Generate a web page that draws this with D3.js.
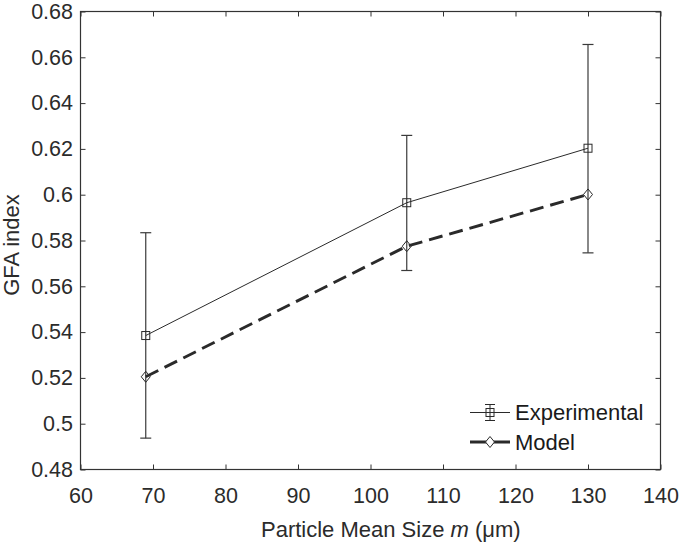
<!DOCTYPE html>
<html><head><meta charset="utf-8">
<script src="https://cdn.jsdelivr.net/npm/d3@7"></script>
<style>body{margin:0;background:#fff}svg{display:block}</style>
</head><body>
<svg id="c" width="685" height="544"></svg>
<script>
const sizes = [69, 105, 130];
const experimental = [0.5385, 0.5965, 0.6203];
const errLow = [0.4937, 0.5669, 0.5746];
const errHigh = [0.5834, 0.6259, 0.6656];
const model = [0.5205, 0.5775, 0.6001];
const xTicks = [60, 70, 80, 90, 100, 110, 120, 130, 140];
const yTicks = [0.48, 0.5, 0.52, 0.54, 0.56, 0.58, 0.6, 0.62, 0.64, 0.66, 0.68];
const seriesNames = ["Experimental", "Model"];

const svg = d3.select("#c");
const L = 80.5, R = 660.5, T = 11.5, B = 469.5;
const x = d3.scaleLinear().domain([60, 140]).range([L, R]);
const y = d3.scaleLinear().domain([0.48, 0.68]).range([B, T]);
const axisCol = "#333";
const font = "'Liberation Sans', Arial, sans-serif";
const fs = 21.5, fsL = 22;

function styleAxis(g, showText){
  g.select(".domain").remove();
  g.selectAll(".tick line").attr("stroke", axisCol).attr("stroke-width", 1);
  g.selectAll(".tick text").attr("fill", "#2b2b2b").style("font-family", font).style("font-size", fs + "px");
  if(!showText) g.selectAll(".tick text").remove();
}
const fmtY = d => d3.format("")(+d.toFixed(2));
svg.append("g").attr("transform", `translate(0,${B})`)
  .call(d3.axisBottom(x).tickValues(xTicks).tickSizeInner(-5).tickSizeOuter(0).tickPadding(18))
  .call(g => styleAxis(g, true));
svg.append("g").attr("transform", `translate(0,${T})`)
  .call(d3.axisTop(x).tickValues(xTicks).tickSizeInner(-5).tickSizeOuter(0))
  .call(g => styleAxis(g, false));
svg.append("g").attr("transform", `translate(${L},0)`)
  .call(d3.axisLeft(y).tickValues(yTicks).tickFormat(fmtY).tickSizeInner(-5).tickSizeOuter(0).tickPadding(7.5))
  .call(g => styleAxis(g, true));
svg.append("g").attr("transform", `translate(${R},0)`)
  .call(d3.axisRight(y).tickValues(yTicks).tickSizeInner(-5).tickSizeOuter(0))
  .call(g => styleAxis(g, false));
svg.append("rect").attr("x", L).attr("y", T).attr("width", R - L).attr("height", B - T)
  .attr("fill", "none").attr("stroke", axisCol).attr("stroke-width", 1.2);

// axis labels
svg.append("text").attr("x", 261).attr("y", 536.5).attr("text-anchor", "start")
  .style("font-family", font).style("font-size", fsL + "px").attr("fill", "#2b2b2b")
  .html('Particle Mean Size <tspan font-style="italic">m</tspan> (μm)');
svg.append("text").attr("transform", `translate(19,245) rotate(-90)`).attr("text-anchor", "middle")
  .style("font-family", font).style("font-size", fsL + "px").attr("fill", "#2b2b2b")
  .text("GFA index");

const line = d3.line().x(d => x(d[0])).y(d => y(d[1]));
const expData = sizes.map((s, i) => [s, experimental[i]]);
const modData = sizes.map((s, i) => [s, model[i]]);

// error bars
const eb = svg.append("g").attr("stroke", "#3a3a3a").attr("stroke-width", 1.2);
sizes.forEach((s, i) => {
  const cx = x(s);
  eb.append("line").attr("x1", cx).attr("x2", cx).attr("y1", y(errLow[i])).attr("y2", y(errHigh[i]));
  eb.append("line").attr("x1", cx - 5.5).attr("x2", cx + 5.5).attr("y1", y(errLow[i])).attr("y2", y(errLow[i]));
  eb.append("line").attr("x1", cx - 5.5).attr("x2", cx + 5.5).attr("y1", y(errHigh[i])).attr("y2", y(errHigh[i]));
});

svg.append("path").datum(expData).attr("d", line).attr("fill", "none").attr("stroke", "#2a2a2a").attr("stroke-width", 1);
svg.append("path").datum(modData).attr("d", line).attr("fill", "none").attr("stroke", "#2a2a2a")
  .attr("stroke-width", 2.9).attr("stroke-dasharray", "14,7");

function square(g, cx, cy){
  g.append("rect").attr("x", cx - 4).attr("y", cy - 4).attr("width", 8).attr("height", 8)
    .attr("fill", "none").attr("stroke", "#2a2a2a").attr("stroke-width", 1);
}
function diamond(g, cx, cy){
  g.append("path").attr("d", `M${cx},${cy - 5.5}L${cx + 4.5},${cy}L${cx},${cy + 5.5}L${cx - 4.5},${cy}Z`)
    .attr("fill", "none").attr("stroke", "#2a2a2a").attr("stroke-width", 1);
}
const mk = svg.append("g");
expData.forEach(d => square(mk, x(d[0]), y(d[1])));
modData.forEach(d => diamond(mk, x(d[0]), y(d[1])));

// legend
const lg = svg.append("g");
const ly = [412.5, 442];
lg.append("line").attr("x1", 470).attr("x2", 510).attr("y1", ly[0]).attr("y2", ly[0]).attr("stroke", "#2a2a2a").attr("stroke-width", 1);
lg.append("line").attr("x1", 490).attr("x2", 490).attr("y1", ly[0] - 8).attr("y2", ly[0] + 8).attr("stroke", "#2a2a2a").attr("stroke-width", 1);
lg.append("line").attr("x1", 485).attr("x2", 495).attr("y1", ly[0] - 8).attr("y2", ly[0] - 8).attr("stroke", "#2a2a2a").attr("stroke-width", 1);
lg.append("line").attr("x1", 485).attr("x2", 495).attr("y1", ly[0] + 8).attr("y2", ly[0] + 8).attr("stroke", "#2a2a2a").attr("stroke-width", 1);
square(lg, 490, ly[0]);
lg.append("line").attr("x1", 470).attr("x2", 510).attr("y1", ly[1]).attr("y2", ly[1]).attr("stroke", "#2a2a2a").attr("stroke-width", 2.9);
lg.append("path").attr("d", `M490,${ly[1] - 5.5}L494.5,${ly[1]}L490,${ly[1] + 5.5}L485.5,${ly[1]}Z`)
  .attr("fill", "#fff").attr("stroke", "#2a2a2a").attr("stroke-width", 1);
seriesNames.forEach((n, i) => {
  lg.append("text").attr("x", 515).attr("y", ly[i]).attr("dy", "0.36em")
    .style("font-family", font).style("font-size", fsL + "px").attr("fill", "#1a1a1a").text(n);
});
</script>
</body></html>
